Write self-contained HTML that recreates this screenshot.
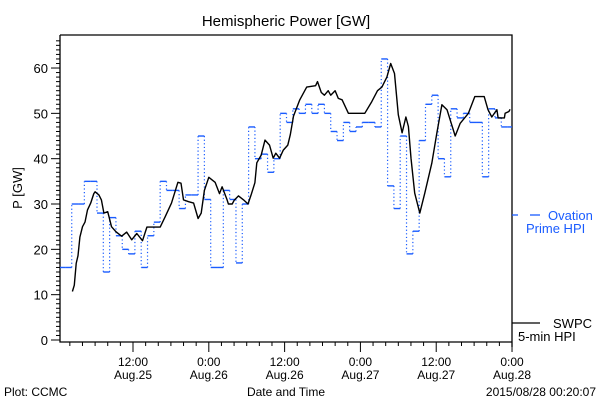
<!DOCTYPE html>
<html><head><meta charset="utf-8"><style>
body{margin:0;background:#fff;}
svg{display:block;font-family:"Liberation Sans",sans-serif;}
</style></head><body>
<svg id="c" width="600" height="400">
<text x="286" y="26" font-size="15" text-anchor="middle">Hemispheric Power [GW]</text>
<text transform="translate(22,188) rotate(-90)" font-size="13" text-anchor="middle">P [GW]</text>
<text x="286" y="396" font-size="12" text-anchor="middle">Date and Time</text>
<text x="4" y="396" font-size="12">Plot: CCMC</text>
<text x="596" y="396" font-size="12" text-anchor="end">2015/08/28 00:20:07</text>
<g id="axes"></g>
<g id="blue"></g>
<g id="black"></g>
<g>
<line x1="512" y1="215" x2="518" y2="215" stroke="#1a5cff" stroke-width="1.3"/>
<line x1="530" y1="215" x2="540" y2="215" stroke="#1a5cff" stroke-width="1.3"/>
<text x="548" y="220" font-size="13" fill="#1a5cff">Ovation</text>
<text x="526" y="233" font-size="13" fill="#1a5cff">Prime HPI</text>
<line x1="512" y1="323" x2="540" y2="323" stroke="#000" stroke-width="1.3"/>
<text x="553" y="328" font-size="13">SWPC</text>
<text x="518" y="341" font-size="13">5-min HPI</text>
</g>
</svg>
<script>
// Ovation hourly values, starting at hour 0.3 (hours from Aug.25 00:00)
const ovationStart = 0.3;
const ovationValues = [16,16,30,30,35,35,28,15,27,23,20,19,24,16,23,26,35,33,33,29,32,32,45,31,16,16,33,31,17,30,47,40,41,37,40,50,48,51,50,52,50,52,50,46,44,48,46,47,48,48,47,62,34,29,45,19,24,44,52,54,40,36,51,49,50,48,48,36,51,49,47,47];
// SWPC 5-min series (hours, GW)
const swpcHours = [2.4,2.7,3.0,3.3,3.6,4.0,4.4,4.8,5.3,5.8,6.0,6.6,7.0,7.4,8.0,8.2,8.6,9.3,10.2,11.0,11.8,12.6,13.5,14.2,16.3,17.1,18.1,19.1,19.6,20.0,20.8,21.6,22.3,22.8,23.3,24.0,25.0,25.7,26.1,26.9,27.1,27.7,28.0,28.7,29.5,30.2,30.7,31.3,31.6,32.3,32.9,33.6,34.2,34.6,35.2,35.8,36.5,36.9,37.4,38.4,39.5,40.9,41.2,41.8,42.3,42.9,43.3,44.0,44.5,45.1,46.1,48.7,49.8,50.7,51.4,52.2,52.8,53.4,54.0,54.6,55.2,55.6,56.0,56.6,57.4,58.2,59.3,60.1,60.9,61.7,63.0,63.8,65.1,66.1,67.6,68.2,68.8,69.6,69.8,70.8,70.9,71.5,71.7];
const swpcValues = [10.7,12.1,16.9,18.6,22.7,25,26,28.7,30.2,32.3,32.7,32,30.9,28,28.3,27.2,25,23.9,22.9,23.8,22.1,23.5,21.9,24.9,24.9,27.2,30.2,34.8,34.6,30.9,30.5,30.2,26.8,28,33,35.9,34.8,32.3,33.8,30.9,30,30,30.8,31.8,30.9,30,32,34.7,39.1,40.8,44.1,43,40.1,41.2,40.1,41.9,43,45.3,49.4,53,55.8,56.1,57,54.6,54,55,54,55,53.3,53,50,50,52.6,55,55.8,58,61,58.8,49.7,45.7,49.2,47.1,40.1,32.4,28,32.4,39,45.7,51.9,50.8,45,47.8,50,53.7,53.7,50.8,49.2,50.8,49,49,50,50.4,50.9];
const yTicks = [0,10,20,30,40,50,60];
const xTickHours = [12,24,36,48,60,72];
const xTickLabels = [["12:00","Aug.25"],["0:00","Aug.26"],["12:00","Aug.26"],["0:00","Aug.27"],["12:00","Aug.27"],["0:00","Aug.28"]];

const L=60,R=512,T=35,B=342;
const hMin=(L-57.2)/6.317, hMax=72;
function X(h){return 57.2+h*6.317;}
function Y(v){return 340-v*4.533;}
const NS="http://www.w3.org/2000/svg";
function mk(tag,attrs,parent){const e=document.createElementNS(NS,tag);for(const k in attrs)e.setAttribute(k,attrs[k]);parent.appendChild(e);return e;}
const ax=document.getElementById('axes');
const frame=mk('path',{d:`M${L},${T}H${R}V347M${L},${T}V${B}H${R}`,fill:'none',stroke:'#000','stroke-width':1.3},ax);


for(let v=0;v<=66;v++){
  const major=v%10===0;
  const t=mk('line',{x1:major?L-9:L-4,x2:L,y1:Y(v),y2:Y(v),stroke:'#000','stroke-width':1},ax);
  
  
}
yTicks.forEach(v=>{
  const t=mk('text',{x:L-12,y:Y(v)+5,'font-size':13,'text-anchor':'end'},ax);
  t.textContent=v;
  
  
});
for(let h=2;h<=72;h+=2){
  if(X(h)<L)continue;
  const major=h%12===0;
  const t=mk('line',{x1:X(h),x2:X(h),y1:B,y2:major?B+10:B+4,stroke:'#000','stroke-width':1},ax);
  
  
}
xTickHours.forEach((h,i)=>{
  const t1=mk('text',{x:X(h),y:366,'font-size':12,'text-anchor':'middle'},ax);
  t1.textContent=xTickLabels[i][0];
  
  
  const t2=mk('text',{x:X(h),y:379,'font-size':12,'text-anchor':'middle'},ax);
  t2.textContent=xTickLabels[i][1];
  
  
});
// Ovation stepped series
const bg=document.getElementById('blue');
let prev=null;
ovationValues.forEach((v,i)=>{
  let h0=Math.max(ovationStart+i,hMin), h1=Math.min(ovationStart+i+1,hMax);
  if(h1<=h0)return;
  const s=mk('line',{x1:X(h0),x2:X(h1),y1:Y(v),y2:Y(v),stroke:'#1a5cff','stroke-width':1.4},bg);
  
  
  if(prev!==null && prev!==v){
    const d=mk('line',{x1:X(h0),x2:X(h0),y1:Y(prev),y2:Y(v),stroke:'#1a5cff','stroke-width':1.2,'stroke-dasharray':'1.2,2.4'},bg);
    
    
  }
  prev=v;
});
// SWPC line
const kg=document.getElementById('black');
const pts=swpcHours.map((h,i)=>X(h).toFixed(1)+','+Y(swpcValues[i]).toFixed(1)).join(' ');
const pl=mk('polyline',{points:pts,fill:'none',stroke:'#000','stroke-width':1.4,'stroke-linejoin':'round'},kg);


</script>
</body></html>
